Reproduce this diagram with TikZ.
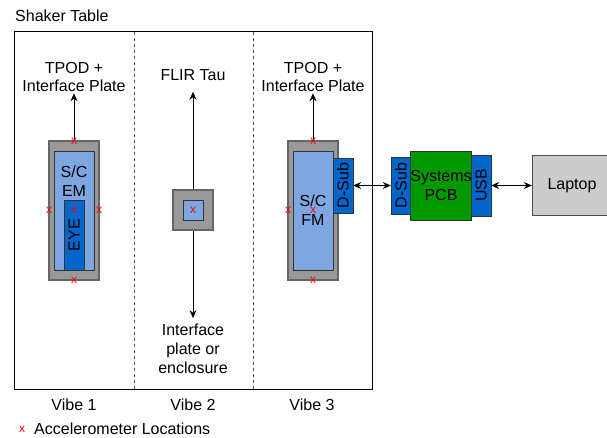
\documentclass[tikz,border=0pt]{standalone}
\usepackage{fontspec}
\setmainfont{Liberation Sans}
\usepackage{xcolor}
\usepackage{tikz}
\usetikzlibrary{positioning,arrows.meta}
\definecolor{mountgray}{HTML}{999999}
\definecolor{mountedge}{HTML}{666666}
\definecolor{scblue}{HTML}{7EA6E0}
\definecolor{connblue}{HTML}{0066CC}
\definecolor{pcbgreen}{HTML}{009900}
\definecolor{laptopgray}{HTML}{CCCCCC}
\tikzset{
mount/.style={
draw=mountedge,
line width=1.5pt,
fill=mountgray,
inner sep=0pt
},
scbox/.style={
draw=black!80,
fill=scblue,
inner sep=0pt
},
conn/.style={
draw=black!80,
fill=connblue,
inner sep=0pt,
rotate=90
},
pcb/.style={
draw=black!80,
fill=pcbgreen,
inner sep=0pt,
align=center
},
laptop/.style={
draw=black!70,
fill=laptopgray,
inner sep=0pt
},
lbl/.style={
align=center,
inner sep=1pt
},
accel/.style={
text=red,
font=\fontsize{12}{12}\selectfont,
inner sep=0pt
},
arrow/.style={
-{Stealth[length=8pt,width=7pt]},
line width=1pt
},
biarrow/.style={
{Stealth[length=8pt,width=7pt]}-{Stealth[length=8pt,width=7pt]},
line width=1pt
}
}

\begin{document}
\begin{tikzpicture}[x=1pt,y=-1pt,font=\fontsize{16}{18.8}\selectfont]

\clip (0,0) rectangle (607,438);

\node[anchor=base west,inner sep=0pt](title) at (15,22){Shaker Table};

\node[draw,line width=1pt,minimum width=358pt,minimum height=357pt,inner sep=0pt](table) at (193,210.5){};

\foreach \x in {134,253}
\draw[black!70,line width=1pt,dash pattern=on 3pt off 3pt](\x,32)--(\x,389);

\node[mount,minimum width=50pt,minimum height=139pt](mounta) at (74,210.5){};

\node[scbox,minimum width=40pt,minimum height=119pt](em) at (74,210.5){};

\node[lbl](emtext) at (74,181.5){S/C\\EM};

\node[conn,minimum width=70pt,minimum height=20pt](eye) at (74,235){EYE};

\node[lbl](tpoda) at (74,77){TPOD +\\Interface Plate};

\node[mount,minimum width=40pt,minimum height=40pt](tau) at (193,210){};

\node[scbox,minimum width=20pt,minimum height=20pt](tauin) at (193,210){};

\node[lbl](flir) at (193,75){FLIR Tau};

\node[lbl](plate) at (193,349){Interface\\plate or\\enclosure};

\node[mount,minimum width=50pt,minimum height=139pt](mountc) at (313,210.5){};

\node[scbox,minimum width=40pt,minimum height=119pt](fm) at (313,210.5){};

\node[lbl](fmtext) at (313,210){S/C\\FM};

\node[conn,minimum width=55pt,minimum height=20pt](dsuba) at (343,185.5){D-Sub};

\node[lbl](tpodc) at (313,77){TPOD +\\Interface Plate};

\node[conn,minimum width=57pt,minimum height=20pt](dsubb) at (401,185.5){D-Sub};

\node[pcb,minimum width=60pt,minimum height=69pt](sys) at (441,185.5){Systems\\PCB};

\node[conn,minimum width=61pt,minimum height=20pt](usb) at (481,185.5){USB};

\node[laptop,minimum width=80pt,minimum height=60pt](pc) at (572,185.5){Laptop};

\draw[arrow](mounta.north)--(tpoda.south);

\draw[arrow](mountc.north)--(tpodc.south);

\draw[arrow,shorten >=10pt](tau.north)--(flir.south);

\draw[arrow,shorten >=5pt](tau.south)--(plate.north);

\foreach \x/\y in {dsuba/dsubb,usb/pc}
\draw[biarrow](\x)--(\y);

\foreach \n/\p in {a/{74,141},b/{49,210},c/{99,210},d/{74,210},e/{74,280},f/{193,210},g/{313,141},h/{288,210},i/{313,210},j/{313,280},k/{22,429}}
\node[accel](acc\n) at (\p){x};

\node[anchor=west,inner sep=0pt](legend) at (34,429){Accelerometer Locations};

\node[lbl](vibea) at (74,405){Vibe 1};

\node[lbl](vibeb) at (193,405){Vibe 2};

\node[lbl](vibec) at (312,405){Vibe 3};

\end{tikzpicture}
\end{document}
